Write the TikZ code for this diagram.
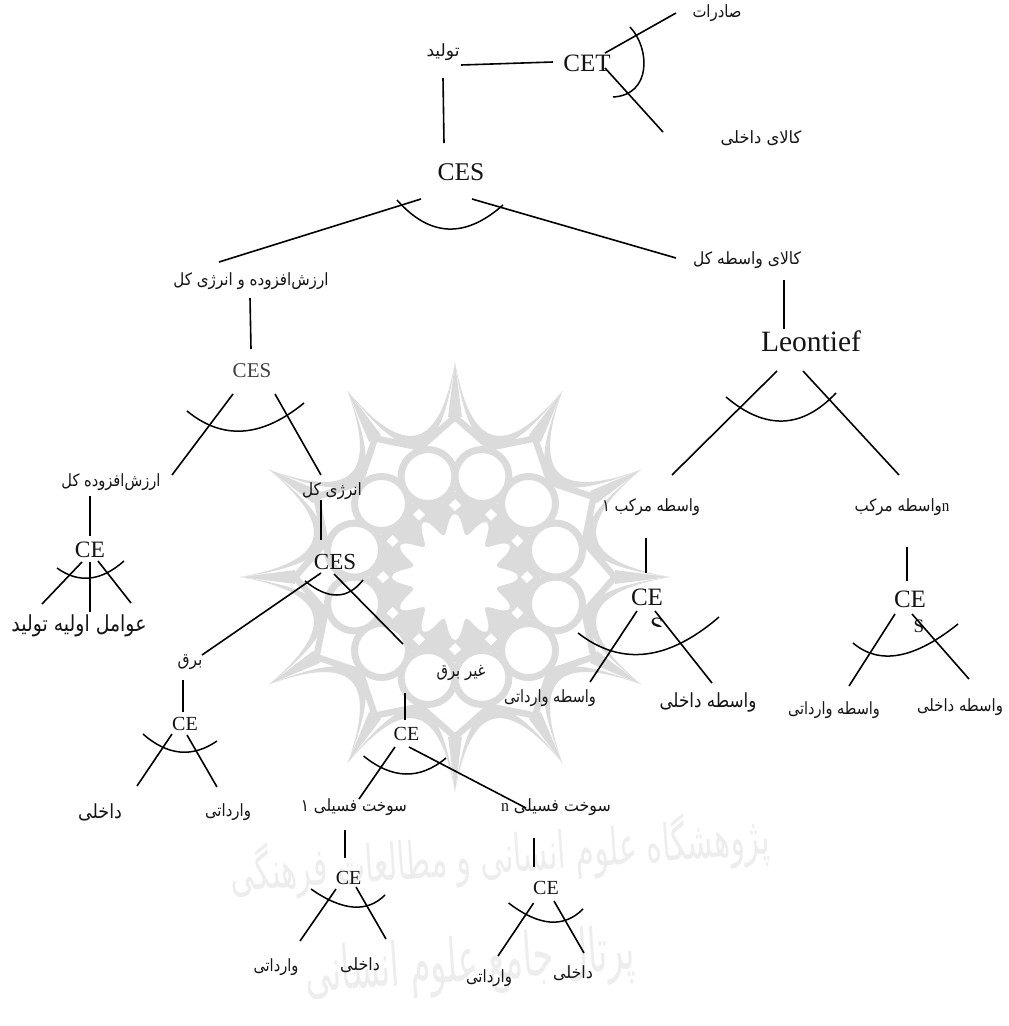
\documentclass[tikz,border=0pt]{standalone}
\usepackage{fontspec}
\usepackage{graphicx}
\setmainfont{Liberation Serif}
\newfontfamily\arfont[Script=Arabic]{DejaVu Sans}
\TeXXeTstate=1
\usetikzlibrary{calc}
\definecolor{wmark}{gray}{0.86}
\definecolor{wtext}{gray}{0.93}
\definecolor{ink}{gray}{0.08}
\tikzset{
  lat/.style={inner sep=0pt,text=ink,font=\fontsize{#1}{#1}\selectfont},
  far/.style={inner sep=0pt,text=ink},
  conn/.style={draw=black,line width=1.6pt},
  curveline/.style={draw=black,line width=1.5pt},
}
% label set in the Arabic family, fitted to a given width
\newcommand\ar[3]{\resizebox{#1pt}{1.3\height}{\fontsize{#2}{#2}\selectfont\arfont #3}}
\newcommand\conn[4]{\draw[conn] ([shift={(#2)}]#1.center) -- ([shift={(#4)}]#3.center);}
% parabolic arc through three points
\newcommand\curv[3]{%
  \coordinate (qq) at ($2*(#2)-0.5*(#1)-0.5*(#3)$);
  \draw[curveline] (#1) .. controls ($(#1)!0.6667!(qq)$) and ($(#3)!0.6667!(qq)$) .. (#3);}
\begin{document}
\begin{tikzpicture}[x=1pt,y=-1pt]
\useasboundingbox (0,0) rectangle (1009,1026);
% watermark rosette
\begin{scope}[shift={(455,577)}]
  \fill[wmark] (0,0) circle (85);
  \foreach \a in {0,30,...,330}{
    \pgfmathsetmacro\b{\a+30}
    \pgfmathsetmacro\c{\a+7}
    \pgfmathsetmacro\d{\a+23}
    \pgfmathsetmacro\e{\a+15}
    \pgfmathsetmacro\f{\a-15}
    \pgfmathsetmacro\g{\a+2.5}
    \pgfmathsetmacro\h{\a-2.5}
    \fill[wmark] (\a:215) .. controls (\c:128) and (\d:128) .. (\b:215)
       .. controls (\d:114) and (\c:114) .. cycle;
    \draw[wmark,line width=6.5pt] (\a:160) -- (\e:134);
    \draw[wmark,line width=6.5pt] (\a:160) -- (\f:134);
    \fill[wmark] (\a:215) -- (\g:160) -- (\h:160) -- cycle;
  }
  \foreach \a in {0,30,...,330}{
    \pgfmathsetmacro\e{\a+15}
    \draw[wmark,fill=white,line width=7pt] (\e:104) circle (27);
  }
  \foreach \a in {0,30,...,330}{
    \fill[white] ([shift={(\a:72)}]-6,0) -- ([shift={(\a:72)}]0,-6) -- ([shift={(\a:72)}]6,0) -- ([shift={(\a:72)}]0,6) -- cycle;
  }
  \fill[white] plot[domain=0:360,samples=145,smooth] (\x:{53+10*cos(12*\x)}) -- cycle;
\end{scope}
\node[far,text=wtext] (wm1) at (500,856) {\rotatebox{4}{\resizebox{540pt}{46pt}{\arfont\beginR پژوهشگاه علوم انسانی و مطالعات فرهنگی\endR}}};
\node[far,text=wtext] (wm2) at (470,965) {\rotatebox{4}{\resizebox{330pt}{46pt}{\arfont\beginR پرتال جامع علوم انسانی\endR}}};

% nodes
\node[lat=25] (cet) at (587,63) {CET};
\node[lat=25.5] (ces) at (461,172) {CES};
\node[lat=21,text=black!75] (ces2) at (252,371) {CES};
\node[lat=23] (ces3) at (335,562) {CES};
\node[lat=29.5] (leon) at (811,341) {Leontief};
\node[lat=23.5] (ce0) at (90,550) {CE};
\node[lat=20] (ce1) at (185,724) {CE};
\node[lat=20] (ce2) at (406.5,734) {CE};
\node[lat=20] (ce3) at (348.6,878) {CE};
\node[lat=20] (ce4) at (546,888) {CE};
\node[lat=25] (ce5) at (647,597) {CE};
\node[lat=25] (ce6) at (910,599) {CE};
\begin{scope}
  \clip (650,617) rectangle (664,626);
  \node[lat=25] (s5) at (657,626) {S};
\end{scope}
\node[lat=19] (s6) at (919,626) {S};

\node[far] (tolid) at (443,52) {\ar{33}{13}{\beginR تولید\endR}};
\node[far] (sad) at (717,13) {\ar{49}{13}{\beginR صادرات\endR}};
\node[far] (kd) at (761,138) {\ar{81}{13}{\beginR کالای داخلی\endR}};
\node[far] (vakol) at (747,260) {\ar{108}{13}{\beginR کالای واسطه کل\endR}};
\node[far] (arz) at (251,281) {\ar{155}{13}{\beginR ارزش‌افزوده و انرژی کل\endR}};
\node[far] (arzk) at (111,482) {\ar{99}{13}{\beginR ارزش‌افزوده کل\endR}};
\node[far] (enk) at (332,491) {\ar{60}{13}{\beginR انرژی کل\endR}};
\node[far] (avamel) at (79,626) {\ar{135}{17}{\beginR عوامل اولیه تولید\endR}};
\node[far] (bargh) at (190,662) {\ar{25}{13}{\beginR برق\endR}};
\node[far] (gb) at (461,673) {\ar{49}{13}{\beginR غیر برق\endR}};
\node[far] (dk1) at (100,812) {\ar{44}{15}{\beginR داخلی\endR}};
\node[far] (vr1) at (228,812) {\ar{46}{13}{\beginR وارداتی\endR}};
\node[far] (s1) at (354,807) {\ar{106}{13}{\beginR سوخت فسیلی ۱\endR}};
\node[far] (sn) at (556,807) {\ar{110}{13}{\beginR سوخت فسیلی {\rmfamily n}\endR}};
\node[far] (vr3) at (276,967) {\ar{45}{13}{\beginR وارداتی\endR}};
\node[far] (dk3) at (360,965) {\ar{40}{13}{\beginR داخلی\endR}};
\node[far] (vr4) at (489,978) {\ar{46}{13}{\beginR وارداتی\endR}};
\node[far] (dk4) at (573,973) {\ar{40}{13}{\beginR داخلی\endR}};
\node[far] (vm1) at (651,507) {\ar{98}{13}{\beginR واسطه مرکب ۱\endR}};
\node[far] (vmn) at (902,507) {\ar{95}{13}{\beginR {\rmfamily n}واسطه مرکب\endR}};
\node[far] (vr5) at (550,698) {\ar{92}{13}{\beginR واسطه وارداتی\endR}};
\node[far] (dk5) at (708,702) {\ar{97}{15}{\beginR واسطه داخلی\endR}};
\node[far] (vr6) at (834,710) {\ar{92}{13}{\beginR واسطه وارداتی\endR}};
\node[far] (dk6) at (960,707) {\ar{86}{13}{\beginR واسطه داخلی\endR}};

% connectors
\conn{tolid}{18,13}{cet}{-34,-1}
\conn{tolid}{0,26}{ces}{-17,-29}
\conn{cet}{18,-10}{sad}{-41,0}
\conn{cet}{18,5}{kd}{-98,-6}
\conn{ces}{-40,27}{arz}{-32,-19}
\conn{ces}{11,27}{vakol}{-71,-2}
\conn{arz}{-1,17}{ces2}{-1,-22}
\conn{vakol}{37,20}{leon}{-27,-12}
\conn{leon}{-34,30}{vm1}{21,-32}
\conn{leon}{-8,30}{vmn}{-3,-32}
\conn{ces2}{-19,23}{arzk}{61,-7}
\conn{ces2}{23,23}{enk}{-11,-16}
\conn{arzk}{-21,14}{ce0}{0,-14}
\conn{ce0}{-8,12}{avamel}{-37,-22}
\conn{ce0}{0,12}{avamel}{11,-14}
\conn{ce0}{8,11}{avamel}{52,-23}
\conn{enk}{-11,9}{ces3}{-14,-22}
\conn{ces3}{-14,11}{bargh}{12,-7}
\conn{ces3}{-1,12}{gb}{-58,-29}
\conn{bargh}{-7,18}{ce1}{-2,-12}
\conn{ce1}{-13,10}{dk1}{37,-26}
\conn{ce1}{2,11}{vr1}{-11,-25}
\conn{gb}{-56,20}{ce2}{-1.5,-14}
\conn{ce2}{-11.5,13}{s1}{5,-8}
\conn{ce2}{2.5,13}{sn}{-30,1}
\conn{s1}{-9,23}{ce3}{-3.6,-20}
\conn{sn}{-22,31}{ce4}{-12,-21}
\conn{ce3}{-12.6,11}{vr3}{24,-26}
\conn{ce3}{7.4,9}{dk3}{26,-26}
\conn{ce4}{-12.4,15}{vr4}{9,-22}
\conn{ce4}{8,13}{dk4}{11,-20}
\conn{vm1}{-5,31}{ce5}{-1,-24}
\conn{vmn}{5,40}{ce6}{-3,-18}
\conn{ce5}{-10,14}{vr5}{40,-16}
\conn{ce5}{8,14}{dk5}{4,-19}
\conn{ce6}{-15,15}{vr6}{15,-24}
\conn{ce6}{2,15}{dk6}{9,-28}

% substitution arcs
\draw[curveline] (630,27) .. controls (650,48) and (652,95) .. (613,97);
\curv{397,200}{448,229}{503,205}
\curv{187,411}{243,431}{304,403}
\curv{57,568}{90,578}{124,561}
\curv{305,581}{337,595}{363,580}
\curv{143,734}{180,752}{217,741}
\curv{363.6,756}{405.7,774}{446,758}
\curv{311,889}{353,907}{385,895}
\curv{508.6,903}{550,922}{583,909}
\curv{726,397}{783,421}{836,393}
\curv{578,633}{645.5,654}{719,617}
\curv{853,643}{899,655}{958,624}
\end{tikzpicture}
\end{document}
